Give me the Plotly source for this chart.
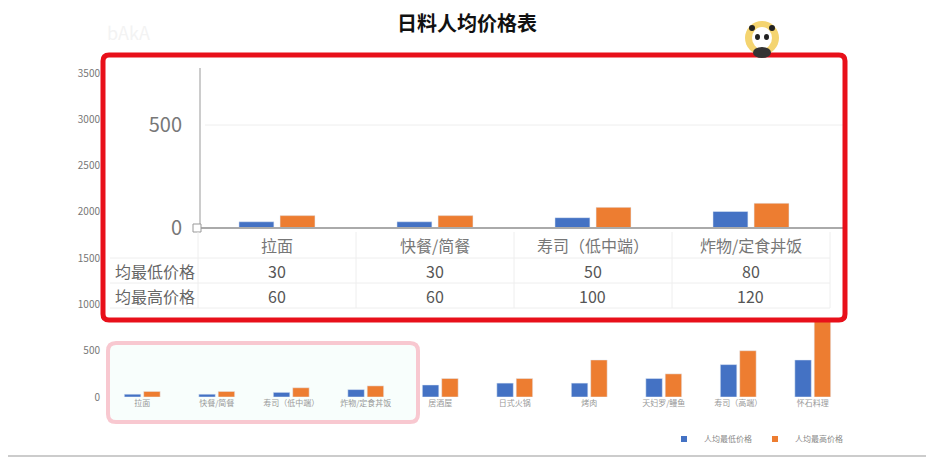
import plotly.graph_objects as go

# page body has an 8px margin, so the figure is shrunk and shifted to line up with the reference
OFF = 8
W, H = 934 - OFF, 459 - OFF

categories = ['拉面', '快餐/简餐', '寿司（低中端）', '炸物/定食丼饭',
              '居酒屋', '日式火锅', '烤肉', '天妇罗/鳗鱼', '寿司（高端）', '怀石料理']
low_price = [30, 30, 50, 80, 130, 150, 150, 200, 350, 400]
high_price = [60, 60, 100, 120, 200, 200, 400, 250, 500, 1000]

zoom_categories = categories[:4]
zoom_low = low_price[:4]
zoom_high = high_price[:4]

series_names = ['人均最低价格', '人均最高价格']
row_labels = ['均最低价格', '均最高价格']
bg_ticks = [0, 500, 1000, 1500, 2000, 2500, 3000, 3500]
zoom_ticks = [0, 500]

BLUE = '#4472C4'
ORANGE = '#ED7D31'
FONT = 'Noto Sans CJK SC'


def px(x):
    return (x - OFF) / W


def py(y):
    return 1 - (y - OFF) / H


def rounded_rect(x0, y0, x1, y1, r):
    # path in paper coords, corners given in pixels
    rx, ry = r / W, r / H
    X0, X1, Y0, Y1 = px(x0), px(x1), py(y1), py(y0)
    return (f'M {X0+rx},{Y0} L {X1-rx},{Y0} Q {X1},{Y0} {X1},{Y0+ry} '
            f'L {X1},{Y1-ry} Q {X1},{Y1} {X1-rx},{Y1} L {X0+rx},{Y1} '
            f'Q {X0},{Y1} {X0},{Y1-ry} L {X0},{Y0+ry} Q {X0},{Y0} {X0+rx},{Y0} Z')


def pline(x0, y0, x1, y1, color, width=1):
    return dict(type='line', xref='paper', yref='paper', x0=px(x0), y0=py(y0),
                x1=px(x1), y1=py(y1), line=dict(color=color, width=width), layer='above')


def circle(x0, y0, x1, y1, color):
    return dict(type='circle', xref='paper', yref='paper', x0=px(x0), y0=py(y1), x1=px(x1), y1=py(y0),
                fillcolor=color, line=dict(width=0), layer='above')


fig = go.Figure()

# background full chart
fig.add_trace(go.Bar(x=categories, y=low_price, name=series_names[0], showlegend=False,
                     marker=dict(color=BLUE), xaxis='x', yaxis='y'))
fig.add_trace(go.Bar(x=categories, y=high_price, name=series_names[1], showlegend=False,
                     marker=dict(color=ORANGE), xaxis='x', yaxis='y'))
# small square legend keys
for name, col in zip(series_names, [BLUE, ORANGE]):
    fig.add_trace(go.Scatter(x=[None], y=[None], mode='markers', name=name,
                             marker=dict(symbol='square', size=6, color=col), xaxis='x', yaxis='y'))

# zoomed inset
fig.add_trace(go.Bar(x=zoom_categories, y=zoom_low, name=series_names[0], showlegend=False,
                     marker=dict(color=BLUE), xaxis='x2', yaxis='y2'))
fig.add_trace(go.Bar(x=zoom_categories, y=zoom_high, name=series_names[1], showlegend=False,
                     marker=dict(color=ORANGE), xaxis='x2', yaxis='y2'))

shapes = [
    dict(type='path', xref='paper', yref='paper', path=rounded_rect(108, 343, 418, 422, 8),
         line=dict(color='#F8C8D0', width=4), fillcolor='rgba(242,253,249,0.5)', layer='below'),
    pline(8, 456, 934, 456, '#cccccc', 2),
    # inset axes and grid
    pline(205, 125, 843, 125, '#eeeeee', 1),
    pline(200, 68, 200, 228, '#999999', 1),
    pline(200, 228, 843, 228, '#aaaaaa', 2),
    dict(type='rect', xref='paper', yref='paper', x0=px(193), y0=py(232), x1=px(201), y1=py(224),
         line=dict(color='#999999', width=1), fillcolor='white', layer='above'),
]
# table grid
for yy in [258, 283, 308]:
    shapes.append(pline(110, yy, 830, yy, '#eeeeee', 1))
for xx in [198, 356, 514, 672, 830]:
    shapes.append(pline(xx, 232, xx, 308, '#eeeeee', 1))
# red highlight border
shapes.append(dict(type='path', xref='paper', yref='paper', path=rounded_rect(103, 55, 845, 320, 6),
                   line=dict(color='#E8101A', width=5), fillcolor='rgba(0,0,0,0)', layer='above'))
# panda badge
shapes += [
    circle(745, 21, 779, 55, '#F4D470'),
    circle(749, 25, 755, 31, '#222222'),
    circle(769, 25, 775, 31, '#222222'),
    circle(752, 27, 772, 49, 'white'),
    circle(755, 34, 760, 40, '#222222'),
    circle(764, 34, 769, 40, '#222222'),
    circle(753, 47, 771, 58, '#333333'),
]

annotations = [
    dict(text='<b>日料人均价格表</b>', x=px(467), y=py(23), xref='paper', yref='paper',
         xanchor='center', yanchor='middle', showarrow=False, borderpad=0,
         font=dict(size=20, color='#111111', family=FONT)),
    dict(text='bAkA', x=px(128), y=py(32), xref='paper', yref='paper',
         xanchor='center', yanchor='middle', showarrow=False,
         font=dict(size=18, color='#f3f3f3', family=FONT)),
]
for cat, lo, hi in zip(zoom_categories, zoom_low, zoom_high):
    for txt, yy, col in [(cat, 245, '#777777'), (str(lo), 271, '#555555'), (str(hi), 296, '#555555')]:
        annotations.append(dict(text=txt, x=cat, y=py(yy), xref='x2', yref='paper',
                                xanchor='center', yanchor='middle', showarrow=False,
                                font=dict(size=16, color=col, family=FONT)))
for lbl, yy in zip(row_labels, [271, 296]):
    annotations.append(dict(text=lbl, x=px(197), y=py(yy), xref='paper', yref='paper',
                            xanchor='right', yanchor='middle', showarrow=False,
                            font=dict(size=16, color='#666666', family=FONT)))

fig.update_layout(
    width=W, height=H,
    margin=dict(l=0, r=0, t=0, b=0, autoexpand=False),
    paper_bgcolor='white', plot_bgcolor='white',
    font=dict(family=FONT),
    barmode='group', bargap=0.48, bargroupgap=0.15,
    xaxis=dict(domain=[px(105), px(850)], anchor='y', showgrid=False, zeroline=False,
               showline=False, ticks='', tickfont=dict(size=8, color='#999999')),
    yaxis=dict(domain=[py(397), py(73)], range=[0, 3500], tickvals=bg_ticks, anchor='x',
               showgrid=False, zeroline=False, showline=False,
               tickfont=dict(size=10, color='#777777'), ticklabelstandoff=4),
    xaxis2=dict(domain=[px(103), px(845)], anchor='y2', range=[-1.101, 3.595],
                showticklabels=False, showgrid=False, zeroline=False, showline=False),
    yaxis2=dict(domain=[py(320), py(55)], range=[-447, 840], anchor='free', position=px(200),
                tickvals=zoom_ticks, showgrid=False, zeroline=False, showline=False,
                tickfont=dict(size=20, color='#777777'), ticklabelstandoff=18),
    legend=dict(orientation='h', x=px(664), y=py(439), xanchor='left', yanchor='middle',
                font=dict(size=8, color='#888888'), bgcolor='rgba(0,0,0,0)',
                itemwidth=30, tracegroupgap=0, entrywidth=46, entrywidthmode='pixels'),
    shapes=shapes,
    annotations=annotations,
)

fig.write_html("out.html")
